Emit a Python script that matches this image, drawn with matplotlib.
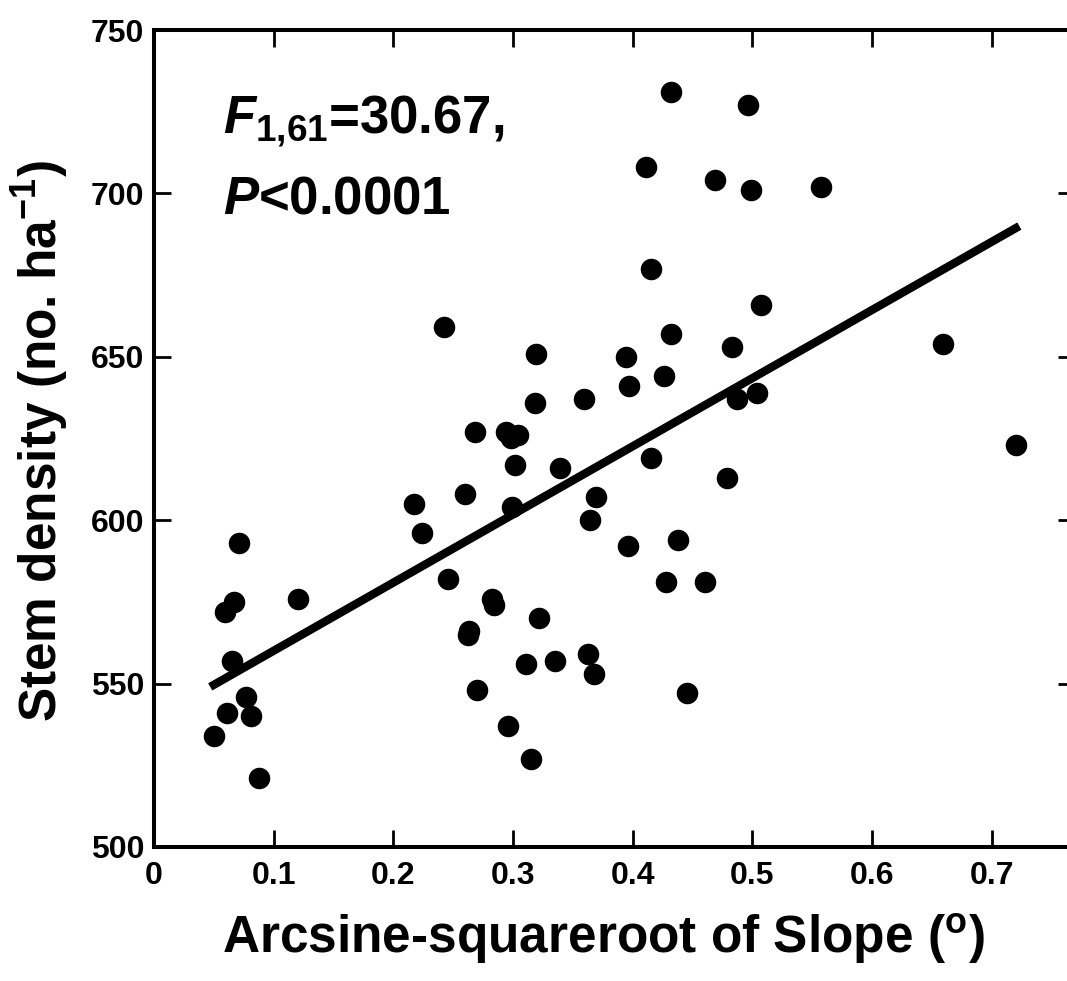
'''
Densidad de tallos frente a la pendiente (arcoseno-raiz cuadrada)
'''
import numpy as np
import matplotlib
matplotlib.use('Agg')
import matplotlib.pyplot as plt

plt.rcParams['font.family'] = ['Liberation Sans', 'DejaVu Sans']
plt.rcParams['font.weight'] = 'bold'
plt.rcParams['mathtext.fontset'] = 'custom'
plt.rcParams['mathtext.rm'] = 'Liberation Sans:bold'
plt.rcParams['mathtext.bf'] = 'Liberation Sans:bold'
plt.rcParams['mathtext.it'] = 'Liberation Sans:italic:bold'

#Datos
pendiente = [0.050, 0.061, 0.059, 0.065, 0.067, 0.071, 0.077, 0.081, 0.088, 0.120,
             0.217, 0.224, 0.242, 0.246, 0.260, 0.262, 0.263, 0.268, 0.270, 0.282,
             0.284, 0.294, 0.296, 0.299, 0.298, 0.302, 0.304, 0.311, 0.315, 0.319,
             0.318, 0.322, 0.335, 0.339, 0.359, 0.364, 0.363, 0.368, 0.369, 0.394,
             0.396, 0.397, 0.428, 0.426, 0.411, 0.415, 0.415, 0.432, 0.432, 0.438,
             0.445, 0.460, 0.469, 0.479, 0.483, 0.487, 0.496, 0.499, 0.504, 0.507,
             0.557, 0.659, 0.720]
densidad = [534, 541, 572, 557, 575, 593, 546, 540, 521, 576,
            605, 596, 659, 582, 608, 565, 566, 627, 548, 576,
            574, 627, 537, 604, 625, 617, 626, 556, 527, 651,
            636, 570, 557, 616, 637, 600, 559, 553, 607, 650,
            592, 641, 581, 644, 708, 619, 677, 731, 657, 594,
            547, 581, 704, 613, 653, 637, 727, 701, 639, 666,
            702, 654, 623]

#Recta de regresion (extremos)
recta_x = [0.047, 0.723]
recta_y = [549, 690]

xticks = [0, 0.1, 0.2, 0.3, 0.4, 0.5, 0.6, 0.7]
xlabels = ['0', '0.1', '0.2', '0.3', '0.4', '0.5', '0.6', '0.7']
yticks = [500, 550, 600, 650, 700, 750]

W, H = 1067, 981
fig = plt.figure(figsize=(W/100, H/100), dpi=100)
ax = fig.add_axes([154/W, (H-847)/H, (1075-154)/W, (847-30)/H])

ax.plot(pendiente, densidad, 'o', color='black', ms=15.5, mew=0, zorder=3)
ax.plot(recta_x, recta_y, '-', color='black', lw=6, solid_capstyle='butt', zorder=2)

ax.set_xlim(0, 0.7695)
ax.set_ylim(500, 750)
ax.set_xticks(xticks)
ax.set_xticklabels(xlabels)
ax.set_yticks(yticks)

for s in ax.spines.values():
	s.set_linewidth(2.9)
ax.tick_params(direction='in', length=12, width=2, top=True, right=True,
               labelsize=23, colors='black')
ax.tick_params(axis='x', pad=10)
ax.tick_params(axis='y', pad=7)
for lab in ax.get_xticklabels() + ax.get_yticklabels():
	lab.set_fontweight('bold')

#Estadistico
ax.text(0.075, 0.874, r'$\mathit{F}_{1{,}61}$=30.67,', transform=ax.transAxes,
        fontsize=38, fontweight='bold', ha='left', va='baseline')
ax.text(0.075, 0.776, r'$\mathit{P}$<0.0001', transform=ax.transAxes,
        fontsize=38, fontweight='bold', ha='left', va='baseline')

#Etiquetas de los ejes
fig.text(222/W, (H-953)/H, r'Arcsine-squareroot of Slope ($^{\mathrm{o}}$)',
         fontsize=37, fontweight='bold', ha='left', va='baseline')
fig.text(57/W, (H-441)/H, r'Stem density (no. ha$^{-1}$)', fontsize=37,
         fontweight='bold', rotation=90, rotation_mode='anchor',
         ha='center', va='baseline')

fig.savefig('out.png', dpi=100)
